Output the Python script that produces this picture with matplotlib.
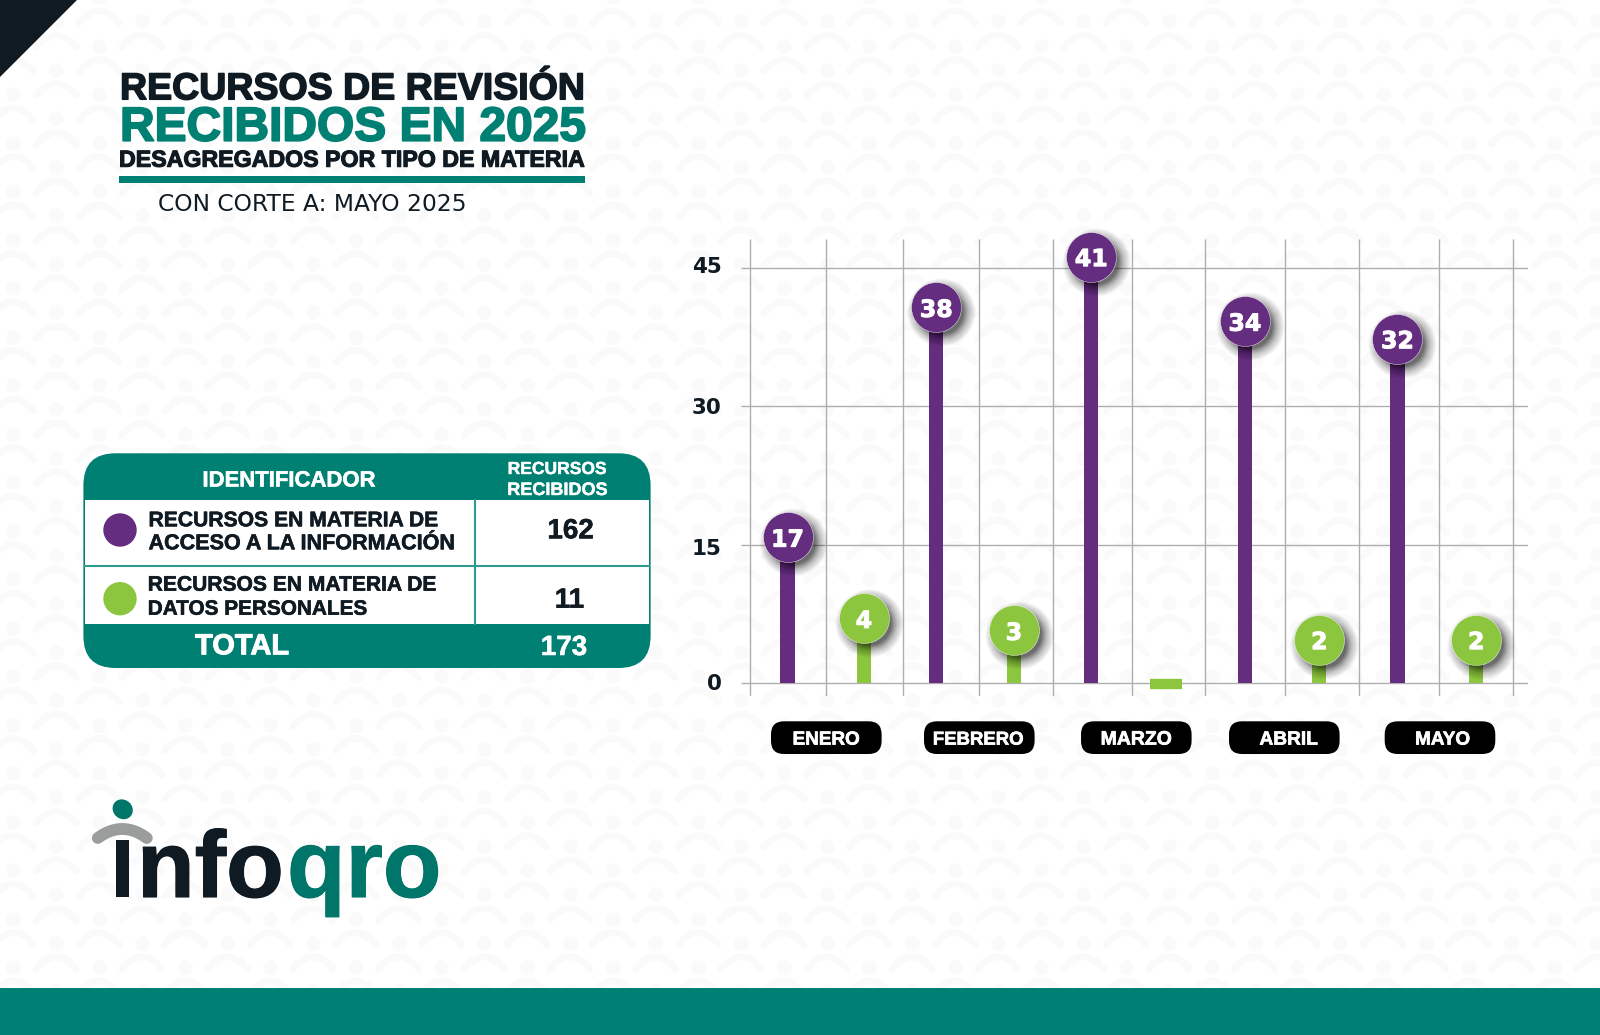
import numpy as np
import matplotlib
matplotlib.use('Agg')
import matplotlib.pyplot as plt
import matplotlib.patheffects as pe
from matplotlib.collections import LineCollection
from matplotlib.patches import Circle, Ellipse, FancyBboxPatch, Polygon, Rectangle
from matplotlib.transforms import ScaledTranslation

# ========== Data ==========
months = ['ENERO', 'FEBRERO', 'MARZO', 'ABRIL', 'MAYO']
acceso_values = [17, 38, 41, 34, 32]
datos_values = [4, 3, 0, 2, 2]
# the stems in the picture are not to scale with their labels, so heights are read separately
acceso_heights = [15.8, 40.7, 46.2, 39.2, 37.3]
datos_heights = [7.0, 5.7, -0.1, 4.7, 4.7]
y_ticks = [0, 15, 30, 45]
table_rows = [('RECURSOS EN MATERIA DE', 'ACCESO A LA INFORMACIÓN', '162'),
              ('RECURSOS EN MATERIA DE', 'DATOS PERSONALES', '11')]
table_total = '173'

# ========== Layout, category slots along the x axis ==========
acceso_x = [0.496, 2.446, 4.476, 6.49, 8.49]
datos_x = [1.497, 3.463, 5.456, 7.465, 9.522]
grid_x = [0, 1, 2.005, 3.005, 3.97, 5.01, 5.97, 7.02, 7.98, 9.03, 10]
month_centers = [826.3, 979.3, 1136.3, 1284.3, 1440]
month_text_centers = [826, 978, 1136, 1288.5, 1442.5]
month_text_widths = [67, 90.7, 71, 58, 55]
tick_nudge_px = [1, -2, 0, 3]

PURPLE = '#652d80'
GREEN = '#8cc63f'
TEAL = '#007f73'
DARK = '#101a22'
GRID = '#aeaeae'
PATTERN = '#fafafa'
W, H = 1600, 1035
FONT = 'Liberation Sans'
NUM_FONT = 'DejaVu Sans'

fig = plt.figure(figsize=(W / 100, H / 100), dpi=100, facecolor='white')

# pixel-coordinate layer for everything that is not the chart itself
bg = fig.add_axes([0, 0, 1, 1])
bg.set_xlim(0, W)
bg.set_ylim(H, 0)
bg.axis('off')

# === Background pattern ===
arcs, dots = [], []
t = np.linspace(-1, 1, 15)
for i in range(-1, 40):
    for j in range(-1, 23):
        cx = i * 42.8 + 13.4
        cy = j * 48.5 + (i % 2) * 24.25 + 11
        arcs.append(np.column_stack([cx + 20 * t, cy + 12 * t ** 2]))
        dots.append((cx, cy - 14))
bg.add_collection(LineCollection(arcs, colors=PATTERN, linewidths=5, capstyle='round', zorder=0))
dots = np.array(dots)
bg.scatter(dots[:, 0], dots[:, 1], s=110, color=PATTERN, linewidths=0, zorder=0)

# === Corner and footer ===
bg.add_patch(Polygon([(0, 0), (77, 0), (0, 77)], color=DARK, lw=0))
bg.add_patch(Rectangle((0, 988), W, 47, color='#008074', lw=0))


def heavy(txt, color, w=0.7):
    # the original typeface is heavier than anything installed
    txt.set_path_effects([pe.withStroke(linewidth=w, foreground=color)])
    return txt


def fit_text(x, y, s, width, ha='left', color=DARK, stroke=0.7, family=FONT, weight='bold', zorder=4):
    # y is the baseline; scale the font so the string spans the width measured on the reference
    txt = bg.text(x, y, s, ha=ha, va='baseline', family=family, weight=weight, color=color, zorder=zorder)
    box = txt.get_window_extent(fig.canvas.get_renderer())
    txt.set_fontsize(txt.get_fontsize() * width / box.width)
    if stroke:
        heavy(txt, color, stroke)
    return txt


# === Title ===
fit_text(120, 99.3, 'RECURSOS DE REVISIÓN', 464, stroke=1.1)
fit_text(120, 140.7, 'RECIBIDOS EN 2025', 464, color=TEAL, stroke=1.3)
fit_text(119, 166.7, 'DESAGREGADOS POR TIPO DE MATERIA', 465, stroke=0.8)
bg.add_patch(Rectangle((118.5, 176), 466.5, 6.5, color=TEAL, lw=0))
fit_text(158, 211, 'CON CORTE A: MAYO 2025', 308, family='DejaVu Sans', weight='normal', stroke=0)

# === Table ===
bg.add_patch(FancyBboxPatch((83.4 + 32, 453.3 + 32), 567.2 - 64, 214.7 - 64,
                            boxstyle='round,pad=32,rounding_size=32', fc=TEAL, ec='none', zorder=1))
bg.add_patch(Rectangle((85.3, 500), 563.3, 124.3, fc='white', ec='none', zorder=2))
bg.plot([85.3, 648.6], [565.7, 565.7], color='#2f9c92', lw=1.5, zorder=3)
bg.plot([475, 475], [500, 624.3], color='#2f9c92', lw=1.5, zorder=3)
fit_text(289, 486.5, 'IDENTIFICADOR', 172, ha='center', color='white', stroke=0.4)
fit_text(557.4, 474, 'RECURSOS', 99, ha='center', color='white', stroke=0.3)
fit_text(557.4, 495, 'RECIBIDOS', 100, ha='center', color='white', stroke=0.3)
row_y = [(526.3, 549.3, 538.3, 530), (590.7, 614.7, 607.7, 598.7)]
row_x = [148.5, 147.7]
line_w = [(289, 305.5), (288, 219)]
num_x = [570.6, 569.4]
for k, (row, color) in enumerate(zip(table_rows, [PURPLE, GREEN])):
    y1, y2, yn, yc = row_y[k]
    bg.add_patch(Circle((120, yc), 16.7, fc=color, ec='none', zorder=4))
    fit_text(row_x[k], y1, row[0], line_w[k][0], stroke=0.4)
    fit_text(row_x[k], y2, row[1], line_w[k][1], stroke=0.4)
    heavy(bg.text(num_x[k], yn, row[2], ha='center', va='baseline', family=FONT, weight='bold',
                  fontsize=20, color=DARK, zorder=4), DARK, 0.4)
fit_text(242.3, 654.3, 'TOTAL', 93.5, ha='center', color='white')
heavy(bg.text(564, 655, table_total, ha='center', va='baseline', family=FONT, weight='bold',
              fontsize=20, color='white', zorder=4), 'white', 0.4)

# === Logo ===
bg.add_patch(Ellipse((122.7, 809.3), 21, 19, angle=40, fc='#00756a', ec='none'))
arc_t = np.linspace(-1, 1, 40)
bg.plot(122.3 + 24.5 * arc_t, 829 + 9 * arc_t ** 2, color='#9a9d9c', lw=8.5, solid_capstyle='round')
bg.add_patch(Rectangle((115.7, 840), 13.6, 57.3, fc=DARK, ec='none'))
heavy(bg.text(137, 897, 'nfo', family=FONT, weight='bold', fontsize=68, color=DARK, va='baseline'), DARK, 0.8)
heavy(bg.text(287, 897, 'qro', family=FONT, weight='bold', fontsize=69, color='#00756a', va='baseline'), '#00756a', 0.8)

# === Chart ===
px_per_slot = 76.3
px_per_unit = 9.229
left, right = 741, 1527.7
top, bottom = 239, 696
ax = fig.add_axes([left / W, 1 - bottom / H, (right - left) / W, (bottom - top) / H])
ax.patch.set_alpha(0)
ax.set_xlim((left - 749.7) / px_per_slot, (right - 749.7) / px_per_slot)
ax.set_ylim((683 - bottom) / px_per_unit, (683 - top) / px_per_unit)
for spine in ax.spines.values():
    spine.set_visible(False)
ax.set_xticks([])
ax.set_yticks(y_ticks)
ax.tick_params(axis='y', length=0, pad=14)
for lab, nudge in zip(ax.get_yticklabels(), tick_nudge_px):
    lab.set_fontsize(15.5)
    lab.set_fontweight('bold')
    lab.set_family(NUM_FONT)
    lab.set_color(DARK)
    lab.set_transform(lab.get_transform() + ScaledTranslation(0, nudge / 100, fig.dpi_scale_trans))

ax.hlines(y_ticks, *ax.get_xlim(), color=GRID, lw=1.0, zorder=1)
ax.vlines(grid_x, *ax.get_ylim(), color=GRID, lw=1.0, zorder=1)

bar_w = 14.3 / px_per_slot
marker_s = 36.0 ** 2
shadow_shift = ScaledTranslation(5 / 100, -5 / 100, fig.dpi_scale_trans)


def lollipops(xs, heights, labels, color):
    for x, h, lab in zip(xs, heights, labels):
        if lab == 0:
            # empty month: a flat dash on the axis, no bubble
            ax.plot([x], [h], marker='_', ms=23, mew=7.5, color=color, zorder=2, clip_on=False)
            continue
        ax.bar(x, h, width=bar_w, color=color, zorder=2)
        # soft shadow to the lower right of the bubble
        for extra in range(18, -8, -2):
            ax.scatter([x], [h], s=(36 + extra * 0.72) ** 2, color='black', alpha=0.035 + max(0, 8 - extra) * 0.006,
                       linewidths=0, transform=ax.transData + shadow_shift, zorder=3, clip_on=False)
        ax.scatter([x], [h], s=marker_s, color=color, edgecolors='white', linewidths=0.3, zorder=4, clip_on=False)
        heavy(ax.text(x, h, str(lab), ha='center', va='center_baseline', family=NUM_FONT, weight='bold',
                      fontsize=17, color='white', zorder=5, clip_on=False), 'white', 0.7)


lollipops(acceso_x, acceso_heights, acceso_values, PURPLE)
lollipops(datos_x, datos_heights, datos_values, GREEN)

# === Month pills ===
for name, cx, tx, tw in zip(months, month_centers, month_text_centers, month_text_widths):
    bg.add_patch(FancyBboxPatch((cx - 55.3 + 13, 721.3 + 13), 110.6 - 26, 32.7 - 26,
                                boxstyle='round,pad=13,rounding_size=13', fc='black', ec='none', zorder=3))
    fit_text(tx, 744.6, name, tw, ha='center', color='white', stroke=0.5)

fig.savefig('out.png', dpi=100)
